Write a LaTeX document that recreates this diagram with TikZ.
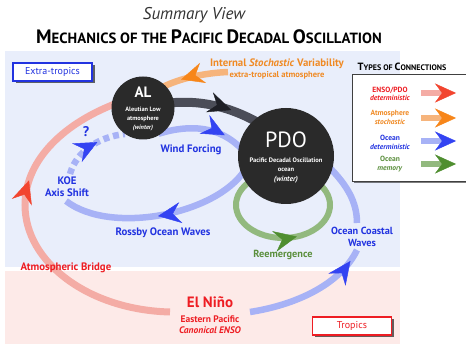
\documentclass[tikz,border=0pt]{standalone}
\usepackage{fontspec}
\setmainfont{PT Sans}
\usetikzlibrary{arrows.meta,decorations.markings,shadows}
\pgfdeclarelayer{bgl}
\pgfdeclarelayer{conl}
\pgfsetlayers{bgl,conl,main}
\definecolor{bgblue}{HTML}{E9EEFB}
\definecolor{bgpink}{HTML}{FDEAE8}
\definecolor{tblue}{HTML}{2233E0}
\definecolor{tred}{HTML}{EE1D23}
\definecolor{torange}{HTML}{F08A24}
\definecolor{tgreen}{HTML}{5B8F3D}
\definecolor{lpink}{HTML}{F4ACA5}
\definecolor{hred}{HTML}{F2452F}
\definecolor{lorange}{HTML}{F6B47C}
\definecolor{horange}{HTML}{F7861A}
\definecolor{lblue}{HTML}{A7B2F6}
\definecolor{hblue}{HTML}{3343F2}
\definecolor{lgreen}{HTML}{92B97E}
\definecolor{hgreen}{HTML}{4F8E30}
\definecolor{ldark}{HTML}{4B4D58}
\definecolor{hdark}{HTML}{1E1F26}
\definecolor{circfill}{HTML}{2A2A2A}
\definecolor{titlegray}{HTML}{333333}
\newcommand{\fsz}[2]{\fontsize{#1}{#2}\selectfont}
\tikzset{
  conn/.style={line width=6.5pt},
  head/.style 2 args={postaction={decorate},decoration={markings,mark=at position #1 with {\arrow{Stealth[length=23pt,width=21pt,inset=8pt,line width=0.4pt,color=#2]}}}},
  legarrow/.style={line width=6pt,-{Stealth[length=21pt,width=19pt,inset=7pt,line width=0.4pt,color=#1]}},
  lbl/.style={inner sep=0pt, font=\bfseries\fsz{10.8}{12.2}, align=center},
  circ/.style={circle, fill=circfill, inner sep=0pt},
  regbox/.style={draw, line width=1.3pt, fill=white, minimum width=79pt, minimum height=18pt, inner sep=0pt, drop shadow={shadow xshift=2.5pt,shadow yshift=-2.5pt,opacity=0.6,fill=black}},
  legtxt/.style={inner sep=0pt, font=\bfseries\fsz{7.5}{8.5}, align=center},
}
\begin{document}
\begin{tikzpicture}[x=1pt,y=-1pt]
\useasboundingbox (0,0) rectangle (466,344);
\begin{pgfonlayer}{bgl}
\fill[white] (0,0) rectangle (466,344);
\fill[bgblue] (5,51) rectangle (400,267);
\fill[bgpink] (5,271) rectangle (400,344);
\end{pgfonlayer}

\node[circ, minimum size=63pt] (AL) at (143,108) {};
\node[circ, minimum size=96pt] (PDO) at (286,156) {};

\begin{pgfonlayer}{conl}
% atmospheric bridge
\coordinate (bS) at (170,312);
\coordinate (bL) at (25,205);
\draw[conn, lpink, line width=7pt, shorten >=-5pt, head={0.66}{hred}] (bS) .. controls (89,310) and (25,262.6) .. (bL) .. controls (25,163.4) and (58.8,125.6) .. (AL.175);
% wind forcing
\draw[conn, lblue, shorten <=-5pt, shorten >=-5pt, head={0.78}{hblue}] (AL.-50) .. controls (190,124) and (220,126) .. (PDO.168);
% rossby
\coordinate (koeR) at (66,201);
\draw[conn, lblue, shorten <=-5pt, head={0.5}{hblue}] (PDO.-157) .. controls (215,215) and (110,235) .. (koeR);
% KOE dashed
\coordinate (koeD) at (70,174);
\draw[conn, lblue, dash pattern=on 6pt off 4pt, head={0.6}{hblue}] (koeD) .. controls (76,152) and (98,137) .. (AL.-125);
% AL -> PDO
\draw[conn, ldark, line width=9pt, shorten <=-5pt, shorten >=-5pt, head={0.7}{hdark}] (AL.10) .. controls (200,100) and (228,106) .. (PDO.132);
% orange
\coordinate (oS) at (228,72);
\draw[conn, lorange, shorten >=-5pt, head={0.74}{horange}] (oS) .. controls (205,73) and (180,78) .. (AL.45);
% green memory
\coordinate (gT) at (283,172);
\coordinate (gL) at (236,205);
\coordinate (gB) at (283,238);
\coordinate (gR) at (330,205);
\draw[conn, lgreen, line width=6pt, head={0.555}{hgreen}] (gT) .. controls (257,172) and (236,186.8) .. (gL) .. controls (236,223.2) and (257,238) .. (gB) .. controls (309,238) and (330,223.2) .. (gR) .. controls (330,186.8) and (309,172) .. (gT);
% coastal
\coordinate (cT) at (357,223);
\draw[conn, lblue, shorten <=-5pt] (PDO.-17) .. controls (347,185) and (357,202) .. (cT);
\coordinate (nS) at (250,312);
\coordinate (cB) at (357,250);
\draw[conn, lblue, head={0.9}{hblue}] (nS) .. controls (295,305) and (340,285) .. (cB);
\end{pgfonlayer}

% titles
\node[inner sep=0pt, font=\itshape\fsz{17}{19}, text=titlegray] (t1) at (194,15) {Summary View};
\node[inner sep=0pt, font=\bfseries, text=black] (t2) at (209,37) {{\fsz{19.4}{22}M}{\fsz{14.8}{22}ECHANICS OF THE }{\fsz{19.4}{22}P}{\fsz{14.8}{22}ACIFIC }{\fsz{19.4}{22}D}{\fsz{14.8}{22}ECADAL }{\fsz{19.4}{22}O}{\fsz{14.8}{22}SCILLATION}};

% region boxes
\node[regbox, draw=tblue, text=tblue, font=\fsz{10}{12}] (xt) at (52.5,72) {Extra-tropics};
\node[regbox, draw=tred, text=tred, font=\fsz{10}{12}] (tr) at (352,326) {Tropics};

% circle texts
\node[inner sep=0pt, font=\bfseries\fsz{15}{17}, text=white] (alt) at (143,92) {AL};
\node[inner sep=0pt, font=\bfseries\fsz{6.3}{9}, text=white, align=center] (ald) at (143,119) {Aleutian Low\\atmosphere\\\textit{(winter)}};
\node[inner sep=0pt, font=\fsz{22}{24}, text=white] (pdot) at (286,140) {PDO};
\node[inner sep=0pt, font=\bfseries\fsz{6.5}{9.5}, text=white, align=center] (pdod) at (286,170.5) {Pacific Decadal Oscillation\\ocean\\{\fsz{7.5}{9.5}\textit{(winter)}}};

% labels
\node[lbl, text=torange] (isv) at (277,64) {Internal \textit{Stochastic} Variability};
\node[lbl, text=torange, font=\bfseries\fsz{8.5}{9}] (eta) at (277,75.5) {extra-tropical atmosphere};
\node[lbl, text=tblue] (wf) at (191,150) {Wind Forcing};
\node[lbl, text=tblue, font=\bfseries\fsz{14}{16}] (qm) at (86,132) {?};
\node[lbl, text=tblue] (koe) at (67,187) {KOE\\Axis Shift};
\node[lbl, text=tblue] (row) at (163,233) {Rossby Ocean Waves};
\node[lbl, text=tgreen, font=\bfseries\fsz{10.3}{12}] (ree) at (283,255) {Reemergence};
\node[lbl, text=tblue, font=\bfseries\fsz{10.3}{12}] (ocw) at (362,237) {Ocean Coastal\\Waves};
\node[lbl, text=tred] (ab) at (66,268) {Atmospheric Bridge};
\node[lbl, text=tred, font=\bfseries\fsz{15}{17}] (en) at (210,302) {El Niño};
\node[lbl, text=tred, font=\bfseries\fsz{9.5}{11.2}] (ep) at (210,324.5) {Eastern Pacific\\\textit{Canonical ENSO}};

% legend
\node[inner sep=0pt, font=\bfseries, text=black] (legt) at (402,67) {{\fsz{10.5}{12}T}{\fsz{8}{12}YPES OF }{\fsz{10.5}{12}C}{\fsz{8}{12}ONNECTIONS}};
\node[draw=black!75, line width=0.8pt, fill=white, minimum width=116pt, minimum height=107pt, inner sep=0pt, anchor=north west, drop shadow={shadow xshift=2pt,shadow yshift=-2pt,opacity=0.5,fill=black}] (leg) at (352,74) {};
\node[legtxt, text=tred] (lg1) at (390,94) {ENSO/PDO\\\textit{deterministic}};
\node[legtxt, text=torange] (lg2) at (390,117.5) {Atmosphere\\\textit{stochastic}};
\node[legtxt, text=tblue] (lg3) at (390,142.5) {Ocean\\\textit{deterministic}};
\node[legtxt, text=tgreen] (lg4) at (390,164) {Ocean\\\textit{memory}};
\coordinate (l1a) at (421,93); \coordinate (l1b) at (456,93);
\coordinate (l2a) at (421,118); \coordinate (l2b) at (456,118);
\coordinate (l3a) at (421,141); \coordinate (l3b) at (456,141);
\coordinate (l4a) at (421,164); \coordinate (l4b) at (456,164);
\draw[legarrow=hred, lpink] (l1a) -- (l1b);
\draw[legarrow=horange, lorange] (l2a) -- (l2b);
\draw[legarrow=hblue, lblue] (l3a) -- (l3b);
\draw[legarrow=hgreen, lgreen] (l4a) -- (l4b);
\end{tikzpicture}
\end{document}
